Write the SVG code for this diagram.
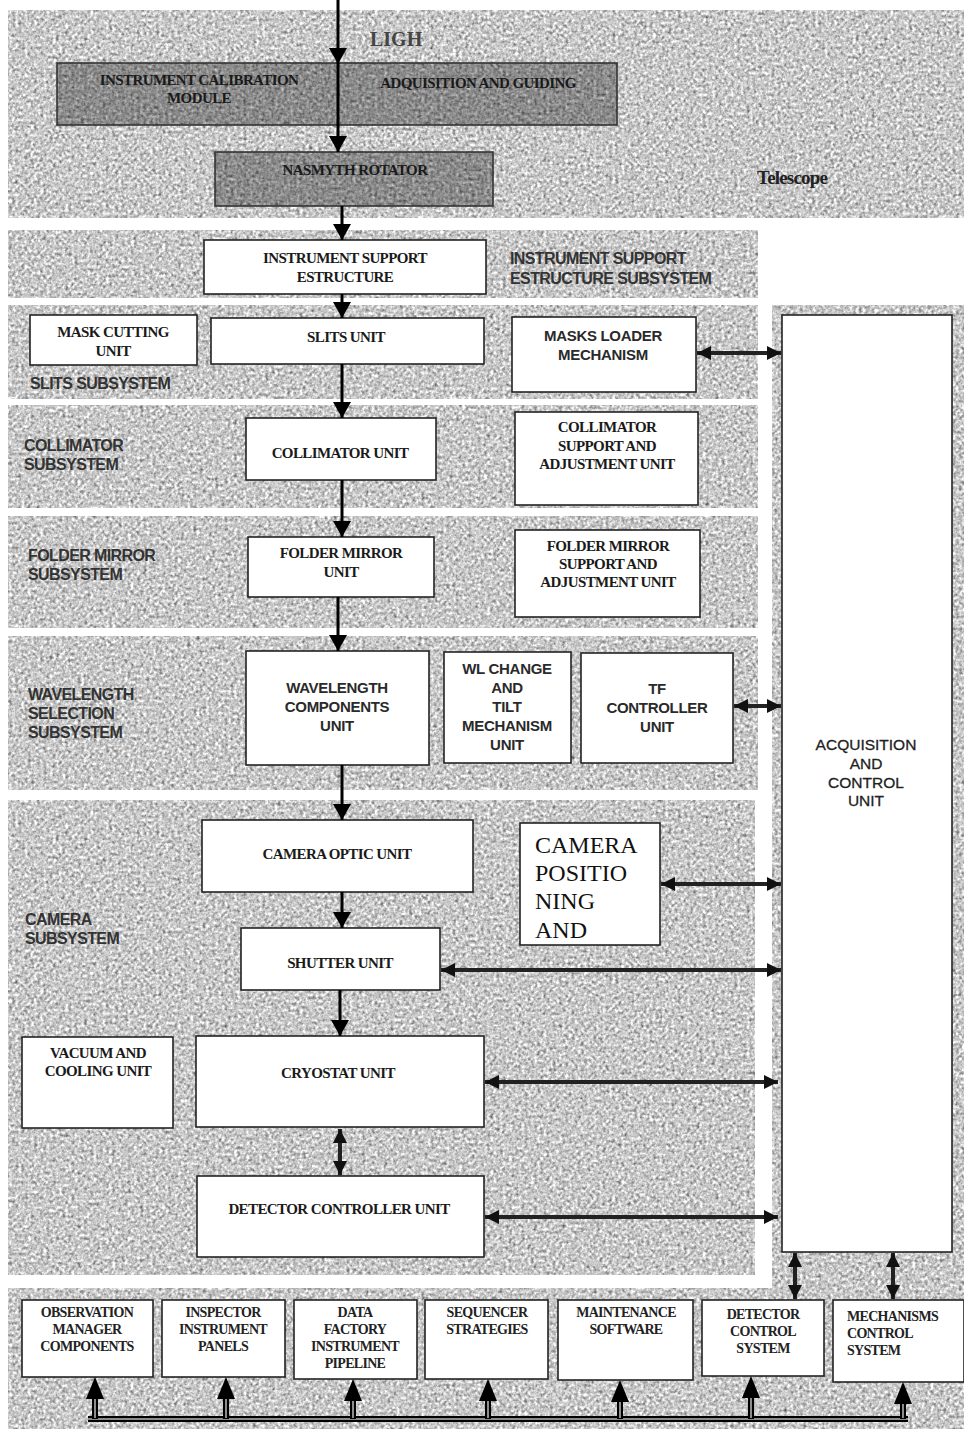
<svg xmlns="http://www.w3.org/2000/svg" width="964" height="1429" viewBox="0 0 964 1429">
<defs>
  <filter id="tex" x="0" y="0" width="1" height="1" color-interpolation-filters="sRGB">
    <feTurbulence type="fractalNoise" baseFrequency="0.32" numOctaves="2" seed="7" result="n"/>
    <feColorMatrix in="n" type="matrix" values="0.33 0.33 0.33 0 0  0.33 0.33 0.33 0 0  0.33 0.33 0.33 0 0  0 0 0 0 1" result="g"/>
    <feComponentTransfer in="g" result="c">
      <feFuncR type="linear" slope="1.5" intercept="0.04"/>
      <feFuncG type="linear" slope="1.5" intercept="0.04"/>
      <feFuncB type="linear" slope="1.5" intercept="0.04"/>
    </feComponentTransfer>
    <feComposite in="c" in2="SourceGraphic" operator="in"/>
  </filter>
  <filter id="texDark" x="0" y="0" width="1" height="1" color-interpolation-filters="sRGB">
    <feTurbulence type="fractalNoise" baseFrequency="0.32" numOctaves="2" seed="3" result="n"/>
    <feColorMatrix in="n" type="matrix" values="0.33 0.33 0.33 0 0  0.33 0.33 0.33 0 0  0.33 0.33 0.33 0 0  0 0 0 0 1" result="g"/>
    <feComponentTransfer in="g" result="c">
      <feFuncR type="linear" slope="1.0" intercept="0.05"/>
      <feFuncG type="linear" slope="1.0" intercept="0.05"/>
      <feFuncB type="linear" slope="1.0" intercept="0.05"/>
    </feComponentTransfer>
    <feComposite in="c" in2="SourceGraphic" operator="in"/>
  </filter>
  <marker id="ah" markerUnits="userSpaceOnUse" markerWidth="16" markerHeight="18" refX="16" refY="9" orient="auto">
    <path d="M0,0 L16,9 L0,18 Z" fill="#000"/>
  </marker>
  <marker id="dh" markerUnits="userSpaceOnUse" markerWidth="14" markerHeight="14" refX="14" refY="7" orient="auto-start-reverse">
    <path d="M0,0 L14,7 L0,14 Z" fill="#111"/>
  </marker>
  <style>
    .box{fill:#fff;stroke:#222;stroke-width:1.6}
    .dbox{fill:#8e8e8e;stroke:#333;stroke-width:1.6}
    .s{font-family:"Liberation Serif","Times New Roman",serif;font-size:15px;font-weight:bold;fill:#1a1a1a;text-anchor:middle;letter-spacing:-0.6px}
    .sb{font-family:"Liberation Serif","Times New Roman",serif;font-size:14px;font-weight:bold;fill:#222;text-anchor:middle;letter-spacing:-0.7px}
    .a{font-family:"Liberation Sans",Arial,sans-serif;font-size:15px;font-weight:bold;fill:#2a2a2a;text-anchor:middle;letter-spacing:-0.3px}
    .ac{font-family:"Liberation Sans",Arial,sans-serif;font-size:15.5px;fill:#222;text-anchor:middle;stroke:#222;stroke-width:0.3}
    .lab{font-family:"Liberation Sans",Arial,sans-serif;font-size:16px;font-weight:bold;fill:#333;letter-spacing:-0.6px}
    .flow{stroke:#000;stroke-width:3;fill:none;marker-end:url(#ah)}
    .bi{stroke:#222;stroke-width:4;fill:none;marker-end:url(#dh);marker-start:url(#dh)}
    .shaft{stroke:#000;stroke-width:6;fill:none}
    .core{stroke:#bbb;stroke-width:1.5;fill:none}
  </style>
</defs>
<rect x="0" y="0" width="964" height="1429" fill="#fff"/>

<g id="panels" filter="url(#tex)" fill="#bbb">
  <rect x="8" y="10" width="956" height="208"/>
  <rect x="8" y="230" width="750" height="68"/>
  <rect x="8" y="305" width="750" height="94"/>
  <rect x="8" y="405" width="750" height="103"/>
  <rect x="8" y="516" width="750" height="112"/>
  <rect x="8" y="636" width="750" height="154"/>
  <rect x="8" y="800" width="747" height="475"/>
  <rect x="772" y="305" width="192" height="990"/>
  <rect x="8" y="1288" width="956" height="141"/>
</g>

<g id="labels">
  <text x="370" y="46" style="font-family:'Liberation Serif','Times New Roman',serif;font-size:20px;font-weight:bold;fill:#444">LIGH</text>
  <text x="757" y="184" style="font-family:'Liberation Serif','Times New Roman',serif;font-size:19px;font-weight:bold;fill:#222;letter-spacing:-0.8px">Telescope</text>
  <text class="lab" x="510" y="264">INSTRUMENT SUPPORT</text>
  <text class="lab" x="510" y="284">ESTRUCTURE SUBSYSTEM</text>
  <text class="lab" x="30" y="389">SLITS  SUBSYSTEM</text>
  <text class="lab" x="24" y="451">COLLIMATOR</text>
  <text class="lab" x="24" y="470">SUBSYSTEM</text>
  <text class="lab" x="28" y="561">FOLDER MIRROR</text>
  <text class="lab" x="28" y="580">SUBSYSTEM</text>
  <text class="lab" x="28" y="700">WAVELENGTH</text>
  <text class="lab" x="28" y="719">SELECTION</text>
  <text class="lab" x="28" y="738">SUBSYSTEM</text>
  <text class="lab" x="25" y="925">CAMERA</text>
  <text class="lab" x="25" y="944">SUBSYSTEM</text>
</g>

<g id="icm">
  <rect class="dbox" x="57" y="63" width="560" height="62" filter="url(#texDark)"/>
  <rect x="57" y="63" width="560" height="62" fill="none" stroke="#333" stroke-width="1.6"/>
  <text class="s" x="199" y="85">INSTRUMENT CALIBRATION</text>
  <text class="s" x="199" y="103">MODULE</text>
  <text class="s" x="478" y="88">ADQUISITION AND GUIDING</text>
</g>
<g id="nasmyth">
  <rect class="dbox" x="215" y="152" width="278" height="54" filter="url(#texDark)"/>
  <rect x="215" y="152" width="278" height="54" fill="none" stroke="#333" stroke-width="1.6"/>
  <text class="s" x="355" y="175">NASMYTH ROTATOR</text>
</g>
<g id="ise">
  <rect class="box" x="204" y="240" width="282" height="54"/>
  <text class="s" x="345" y="263">INSTRUMENT SUPPORT</text>
  <text class="s" x="345" y="282">ESTRUCTURE</text>
</g>
<g id="maskcut">
  <rect class="box" x="30" y="315" width="167" height="50"/>
  <text class="s" x="113" y="337">MASK CUTTING</text>
  <text class="s" x="113" y="356">UNIT</text>
</g>
<g id="slits">
  <rect class="box" x="211" y="318" width="273" height="46"/>
  <text class="s" x="346" y="342">SLITS  UNIT</text>
</g>
<g id="masksloader">
  <rect class="box" x="512" y="317" width="184" height="75"/>
  <text class="a" x="603" y="341">MASKS LOADER</text>
  <text class="a" x="603" y="360">MECHANISM</text>
</g>
<g id="collimator">
  <rect class="box" x="246" y="418" width="190" height="62"/>
  <text class="s" x="340" y="458">COLLIMATOR  UNIT</text>
</g>
<g id="collsupport">
  <rect class="box" x="515" y="412" width="183" height="93"/>
  <text class="s" x="607" y="432">COLLIMATOR</text>
  <text class="s" x="607" y="451">SUPPORT AND</text>
  <text class="s" x="607" y="469">ADJUSTMENT UNIT</text>
</g>
<g id="folder">
  <rect class="box" x="248" y="537" width="186" height="60"/>
  <text class="s" x="341" y="558">FOLDER MIRROR</text>
  <text class="s" x="341" y="577">UNIT</text>
</g>
<g id="foldersupport">
  <rect class="box" x="515" y="530" width="185" height="87"/>
  <text class="s" x="608" y="551">FOLDER MIRROR</text>
  <text class="s" x="608" y="569">SUPPORT AND</text>
  <text class="s" x="608" y="587">ADJUSTMENT   UNIT</text>
</g>
<g id="wavelength">
  <rect class="box" x="246" y="651" width="183" height="114"/>
  <text class="a" x="337" y="693">WAVELENGTH</text>
  <text class="a" x="337" y="712">COMPONENTS</text>
  <text class="a" x="337" y="731">UNIT</text>
</g>
<g id="wlchange">
  <rect class="box" x="444" y="652" width="127" height="111"/>
  <text class="a" x="507" y="674">WL CHANGE</text>
  <text class="a" x="507" y="693">AND</text>
  <text class="a" x="507" y="712">TILT</text>
  <text class="a" x="507" y="731">MECHANISM</text>
  <text class="a" x="507" y="750">UNIT</text>
</g>
<g id="tf">
  <rect class="box" x="581" y="653" width="152" height="110"/>
  <text class="a" x="657" y="694">TF</text>
  <text class="a" x="657" y="713">CONTROLLER</text>
  <text class="a" x="657" y="732">UNIT</text>
</g>
<g id="cameraoptic">
  <rect class="box" x="202" y="820" width="271" height="72"/>
  <text class="s" x="337" y="859">CAMERA OPTIC UNIT</text>
</g>
<g id="camerapos">
  <rect class="box" x="520" y="823" width="140" height="122"/>
  <g style="font-family:'Liberation Serif','Times New Roman',serif;font-size:24px;fill:#111">
    <text x="535" y="853">CAMERA</text>
    <text x="535" y="881">POSITIO</text>
    <text x="535" y="909">NING</text>
    <text x="535" y="938">AND</text>
  </g>
</g>
<g id="shutter">
  <rect class="box" x="241" y="928" width="199" height="62"/>
  <text class="s" x="340" y="968">SHUTTER UNIT</text>
</g>
<g id="vacuum">
  <rect class="box" x="22" y="1037" width="151" height="91"/>
  <text class="s" x="98" y="1058">VACUUM AND</text>
  <text class="s" x="98" y="1076">COOLING UNIT</text>
</g>
<g id="cryostat">
  <rect class="box" x="196" y="1036" width="288" height="91"/>
  <text class="s" x="338" y="1078">CRYOSTAT UNIT</text>
</g>
<g id="detector">
  <rect class="box" x="197" y="1176" width="287" height="81"/>
  <text class="s" x="339" y="1214">DETECTOR CONTROLLER UNIT</text>
</g>
<g id="acu">
  <rect class="box" x="782" y="315" width="170" height="937"/>
  <text class="ac" x="866" y="750">ACQUISITION</text>
  <text class="ac" x="866" y="769">AND</text>
  <text class="ac" x="866" y="788">CONTROL</text>
  <text class="ac" x="866" y="806">UNIT</text>
</g>

<g id="b1"><rect class="box" x="22" y="1300" width="131" height="77"/>
  <text class="sb" x="87" y="1317">OBSERVATION</text><text class="sb" x="87" y="1334">MANAGER</text><text class="sb" x="87" y="1351">COMPONENTS</text></g>
<g id="b2"><rect class="box" x="162" y="1300" width="123" height="77"/>
  <text class="sb" x="223" y="1317">INSPECTOR</text><text class="sb" x="223" y="1334">INSTRUMENT</text><text class="sb" x="223" y="1351">PANELS</text></g>
<g id="b3"><rect class="box" x="294" y="1300" width="123" height="79"/>
  <text class="sb" x="355" y="1317">DATA</text><text class="sb" x="355" y="1334">FACTORY</text><text class="sb" x="355" y="1351">INSTRUMENT</text><text class="sb" x="355" y="1368">PIPELINE</text></g>
<g id="b4"><rect class="box" x="425" y="1300" width="123" height="79"/>
  <text class="sb" x="487" y="1317">SEQUENCER</text><text class="sb" x="487" y="1334">STRATEGIES</text></g>
<g id="b5"><rect class="box" x="558" y="1300" width="135" height="80"/>
  <text class="sb" x="626" y="1317">MAINTENANCE</text><text class="sb" x="626" y="1334">SOFTWARE</text></g>
<g id="b6"><rect class="box" x="702" y="1300" width="122" height="76"/>
  <text class="sb" x="763" y="1319">DETECTOR</text><text class="sb" x="763" y="1336">CONTROL</text><text class="sb" x="763" y="1353">SYSTEM</text></g>
<g id="b7"><rect class="box" x="833" y="1300" width="131" height="82"/>
  <text class="sb" x="847" y="1321" style="text-anchor:start">MECHANISMS</text><text class="sb" x="847" y="1338" style="text-anchor:start">CONTROL</text><text class="sb" x="847" y="1355" style="text-anchor:start">SYSTEM</text></g>

<g id="connectors">
  <line class="flow" x1="338" y1="0" x2="338" y2="64"/>
  <line class="flow" x1="338" y1="64" x2="338" y2="152"/>
  <line class="flow" x1="342" y1="206" x2="342" y2="240"/>
  <line class="flow" x1="342" y1="294" x2="342" y2="318"/>
  <line class="flow" x1="342" y1="364" x2="342" y2="418"/>
  <line class="flow" x1="342" y1="480" x2="342" y2="537"/>
  <line class="flow" x1="338" y1="597" x2="338" y2="651"/>
  <line class="flow" x1="342" y1="765" x2="342" y2="820"/>
  <line class="flow" x1="342" y1="892" x2="342" y2="928"/>
  <line class="flow" x1="340" y1="990" x2="340" y2="1036"/>

  <line class="bi" x1="340" y1="1129" x2="340" y2="1175"/>
  <line class="bi" x1="697" y1="353" x2="781" y2="353"/>
  <line class="bi" x1="734" y1="706" x2="781" y2="706"/>
  <line class="bi" x1="661" y1="884" x2="781" y2="884"/>
  <line class="bi" x1="441" y1="970" x2="781" y2="970"/>
  <line class="bi" x1="485" y1="1082" x2="778" y2="1082"/>
  <line class="bi" x1="485" y1="1217" x2="778" y2="1217"/>
  <line class="bi" x1="795" y1="1253" x2="795" y2="1299"/>
  <line class="bi" x1="893" y1="1253" x2="893" y2="1299"/>

  <g id="bus">
    <line class="shaft" x1="88" y1="1419" x2="908" y2="1419"/>
    <line class="core" x1="88" y1="1419" x2="908" y2="1419"/>
    <path class="shaft" d="M95,1419 V1398 M226,1419 V1398 M353,1419 V1400 M488,1419 V1400 M620,1419 V1401 M751,1419 V1397 M903,1419 V1403"/>
    <path class="core" d="M95,1418 V1398 M226,1418 V1398 M353,1418 V1400 M488,1418 V1400 M620,1418 V1401 M751,1418 V1397 M903,1418 V1403"/>
    <g fill="#000">
      <path d="M95,1377 L104,1399 L86,1399 Z"/>
      <path d="M226,1377 L235,1399 L217,1399 Z"/>
      <path d="M353,1379 L362,1401 L344,1401 Z"/>
      <path d="M488,1379 L497,1401 L479,1401 Z"/>
      <path d="M620,1380 L629,1402 L611,1402 Z"/>
      <path d="M751,1376 L760,1398 L742,1398 Z"/>
      <path d="M903,1382 L912,1404 L894,1404 Z"/>
    </g>
  </g>
</g>
</svg>
